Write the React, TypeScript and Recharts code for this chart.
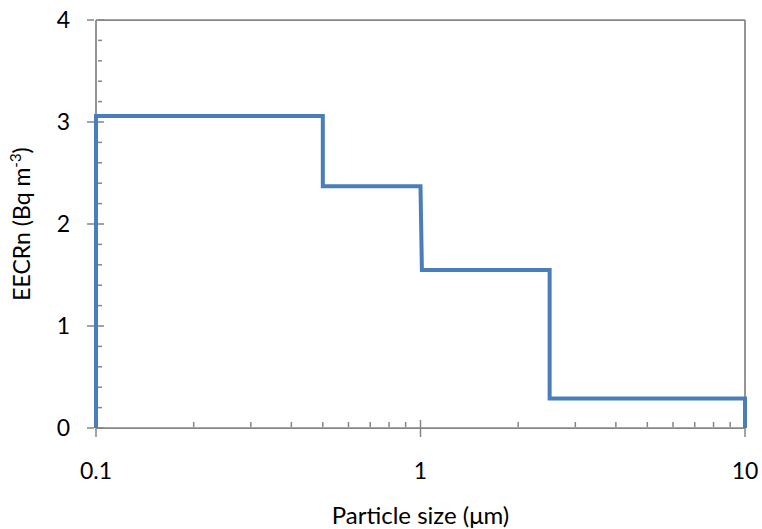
import React from "react";
import { LineChart, Line, XAxis, YAxis, CartesianGrid } from "recharts";

// Step profile (particle size in µm vs EECRn)
const sizes = [0.1, 0.1, 0.5, 0.5, 1.0, 1.01, 2.5, 2.5, 10, 10];
const eecrn = [0, 3.06, 3.06, 2.37, 2.37, 1.55, 1.55, 0.29, 0.29, 0];

const xMajorTicks = [0.1, 1, 10];
const xMinorTicks = [0.2, 0.3, 0.4, 0.5, 0.6, 0.7, 0.8, 0.9, 2, 3, 4, 5, 6, 7, 8, 9];
const xTickLabels = ["0.1", "1", "10"];

const yMajorTicks = [0, 1, 2, 3, 4];
const yMinorTicks = [0.2, 0.4, 0.6, 0.8, 1.2, 1.4, 1.6, 1.8, 2.2, 2.4, 2.6, 2.8, 3.2, 3.4, 3.6, 3.8];
const yTickLabels = ["0", "1", "2", "3", "4"];

const xDomain = [0.1, 10];
const yDomain = [0, 4];

const data = sizes.map((x, i) => ({ x, y: eecrn[i] }));

const FONT = "Lato, 'Open Sans', sans-serif";
const AXIS = "#868686";
const LINE = "#4a7ebb";

const XTick = (props: any) => {
  const { x, y, payload } = props;
  const v = payload.value;
  const mi = xMajorTicks.findIndex((m) => Math.abs(m - v) < 1e-9);
  if (mi >= 0) {
    const edge = mi === 0 || mi === xMajorTicks.length - 1;
    return (
      <g>
        {!edge && <line x1={x} x2={x} y1={y - 8} y2={y} stroke={AXIS} strokeWidth={1.5} />}
        <line x1={x} x2={x} y1={y} y2={y + 9} stroke={AXIS} strokeWidth={1.5} />
        <text x={x} y={y + 51} textAnchor="middle" fontFamily={FONT} fontSize={23} fill="#000">
          {xTickLabels[mi]}
        </text>
      </g>
    );
  }
  return <line x1={x} x2={x} y1={y - 6} y2={y - 1} stroke={AXIS} strokeWidth={1.5} />;
};

const YTick = (props: any) => {
  const { x, y, payload } = props;
  const v = payload.value;
  const mi = yMajorTicks.findIndex((m) => Math.abs(m - v) < 1e-9);
  if (mi >= 0) {
    return (
      <g>
        <line x1={x - 9} x2={x - 2} y1={y} y2={y} stroke={AXIS} strokeWidth={1.5} />
        <line x1={x + 2} x2={x + 8} y1={y} y2={y} stroke={AXIS} strokeWidth={1.5} />
        <text x={x - 26} y={y + 8} textAnchor="end" fontFamily={FONT} fontSize={23} fill="#000">
          {yTickLabels[mi]}
        </text>
      </g>
    );
  }
  return <line x1={x + 2} x2={x + 6} y1={y} y2={y} stroke={AXIS} strokeWidth={1.5} />;
};

const YTitle = (props: any) => {
  const vb = props.viewBox || { x: 0, y: 20, width: 96, height: 408 };
  const cy = vb.y + vb.height / 2;
  return (
    <text
      transform={`translate(30, ${cy}) rotate(-90)`}
      textAnchor="middle"
      fontFamily={FONT}
      fontSize={23}
      fill="#000"
    >
      <tspan>EECRn (Bq m</tspan>
      <tspan dy={-9} fontSize={15}>-3</tspan>
      <tspan dy={9}>)</tspan>
    </text>
  );
};

const XTitle = (props: any) => {
  const vb = props.viewBox || { x: 96, y: 428, width: 649, height: 101 };
  const cx = vb.x + vb.width / 2;
  return (
    <text x={cx} y={vb.y + 96} textAnchor="middle" fontFamily={FONT} fontSize={24} fill="#000">
      Particle size (μm)
    </text>
  );
};

export default function App() {
  return (
    <div style={{ position: "absolute", left: 0, top: 0, width: 762, height: 529 }}>
      <LineChart
        width={762}
        height={529}
        data={data}
        margin={{ top: 20, right: 17, bottom: 0, left: 0 }}
      >
        <CartesianGrid
          stroke={AXIS}
          strokeWidth={1.75}
          horizontalValues={yDomain}
          verticalValues={xDomain}
        />
        <XAxis
          dataKey="x"
          type="number"
          scale="log"
          domain={xDomain}
          ticks={[...xMajorTicks, ...xMinorTicks]}
          interval={0}
          tickSize={0}
          tickMargin={0}
          tickLine={false}
          tick={<XTick />}
          axisLine={false}
          height={101}
          label={<XTitle />}
        />
        <YAxis
          type="number"
          domain={yDomain}
          ticks={[...yMajorTicks, ...yMinorTicks]}
          interval={0}
          tickSize={0}
          tickMargin={0}
          tickLine={false}
          tick={<YTick />}
          axisLine={false}
          width={96}
          label={<YTitle />}
        />
        <Line
          dataKey="y"
          type="linear"
          stroke={LINE}
          strokeWidth={4}
          dot={false}
          activeDot={false}
          isAnimationActive={false}
        />
      </LineChart>
    </div>
  );
}
